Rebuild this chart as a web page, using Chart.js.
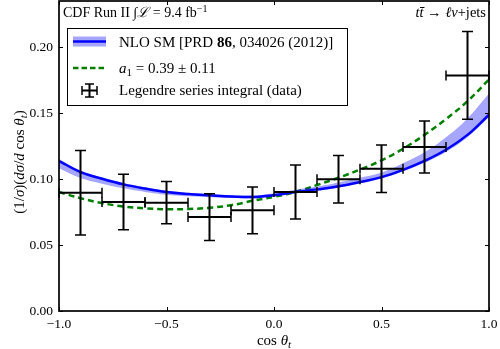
<!DOCTYPE html>
<html>
<head>
<meta charset="utf-8">
<script src="https://cdn.jsdelivr.net/npm/chart.js@4.4.0/dist/chart.umd.min.js"></script>
<style>
  html, body { margin: 0; padding: 0; background: #fff; }
  #wrap { width: 500px; height: 349px; position: relative; }
</style>
</head>
<body>
<div id="wrap"><canvas id="chart"></canvas></div>
<script>
// values
const curveX = [-1.0, -0.9, -0.8, -0.7, -0.6, -0.5, -0.4, -0.3, -0.2, -0.1, 0.0,
                0.1, 0.2, 0.3, 0.4, 0.5, 0.6, 0.7, 0.8, 0.9, 1.0];
const nloMid = [0.1137, 0.1053, 0.1003, 0.0960, 0.0928, 0.0902, 0.0887, 0.0877, 0.0868, 0.0864, 0.0878,
                0.0902, 0.0922, 0.0945, 0.0978, 0.1015, 0.1070, 0.1138, 0.1222, 0.1335, 0.1488];
const nloLow = [0.1082, 0.1008, 0.0965, 0.0930, 0.0903, 0.0882, 0.0870, 0.0863, 0.0856, 0.0854, 0.0868,
                0.0892, 0.0912, 0.0935, 0.0968, 0.1005, 0.1058, 0.1124, 0.1206, 0.1317, 0.1468];
const nloHigh = [0.1152, 0.1065, 0.1013, 0.0970, 0.0938, 0.0912, 0.0897, 0.0887, 0.0878, 0.0876, 0.0893,
                 0.0920, 0.0944, 0.0975, 0.1010, 0.1050, 0.1120, 0.1203, 0.1317, 0.1460, 0.1648];
const fitA1 = [0.0902, 0.0855, 0.0818, 0.0792, 0.0778, 0.0771, 0.0773, 0.0782, 0.0802, 0.0835, 0.0866,
               0.0902, 0.0955, 0.1010, 0.1072, 0.1142, 0.1230, 0.1335, 0.1455, 0.1590, 0.1755];

const binCenters = [-0.9, -0.7, -0.5, -0.3, -0.1, 0.1, 0.3, 0.5, 0.7, 0.9];
const binHalfWidth = [0.1, 0.1, 0.1, 0.1, 0.1, 0.1, 0.1, 0.1, 0.1, 0.1];
const dataY = [0.0897, 0.0826, 0.0821, 0.0712, 0.0763, 0.0902, 0.0998, 0.1079, 0.1243, 0.1786];
const dataErr = [0.032, 0.021, 0.016, 0.0177, 0.0177, 0.0205, 0.018, 0.018, 0.0197, 0.0333];

const xTicks = [-1.0, -0.5, 0.0, 0.5, 1.0];
const yTicks = [0.00, 0.05, 0.10, 0.15, 0.20];

const SERIF = '"Liberation Serif", "DejaVu Serif", serif';
const BLUE = '#0000ff';
const GREEN = '#008000';

function pts(ys) {
    return curveX.map(function(x, i) { return { x: x, y: ys[i] }; });
}

// draw a row of text pieces with their own fonts
function drawRuns(ctx, parts, x, y, align) {
    let total = 0;
    parts.forEach(function(p) {
        ctx.font = p.f;
        p.w = ctx.measureText(p.t).width;
        total += p.w;
    });
    let cx = x;
    if (align === 'center') cx = x - total / 2;
    if (align === 'right') cx = x - total;
    ctx.textBaseline = 'alphabetic';
    ctx.textAlign = 'left';
    parts.forEach(function(p) {
        ctx.font = p.f;
        ctx.fillText(p.t, cx, y + (p.dy || 0));
        cx += p.w;
    });
}

function f(size, style) {
    return (style || '') + ' ' + size + 'px ' + SERIF;
}

function noPad(scale) {
    scale.paddingTop = 0;
    scale.paddingBottom = 0;
    scale.paddingLeft = 0;
    scale.paddingRight = 0;
}

const errorBars = {
    id: 'errorBars',
    afterDatasetsDraw(chart) {
        const ctx = chart.ctx;
        const xs = chart.scales.x, ys = chart.scales.y;
        ctx.save();
        ctx.strokeStyle = '#000';
        binCenters.forEach(function(c, i) {
            const px = xs.getPixelForValue(c);
            const x0 = xs.getPixelForValue(c - binHalfWidth[i]);
            const x1 = xs.getPixelForValue(c + binHalfWidth[i]);
            const py = ys.getPixelForValue(dataY[i]);
            const y0 = ys.getPixelForValue(dataY[i] - dataErr[i]);
            const y1 = ys.getPixelForValue(dataY[i] + dataErr[i]);
            ctx.lineWidth = 2;
            ctx.beginPath();
            ctx.moveTo(x0, py); ctx.lineTo(x1, py);
            ctx.moveTo(px, y0); ctx.lineTo(px, y1);
            ctx.stroke();
            ctx.lineWidth = 1.5;
            ctx.beginPath();
            ctx.moveTo(px - 5.5, y0); ctx.lineTo(px + 5.5, y0);
            ctx.moveTo(px - 5.5, y1); ctx.lineTo(px + 5.5, y1);
            ctx.moveTo(x0, py - 5); ctx.lineTo(x0, py + 5);
            ctx.moveTo(x1, py - 5); ctx.lineTo(x1, py + 5);
            ctx.stroke();
        });
        ctx.restore();
    }
};

const decorations = {
    id: 'decorations',
    afterDraw(chart) {
        const ctx = chart.ctx;
        const a = chart.chartArea;
        const xs = chart.scales.x, ys = chart.scales.y;
        ctx.save();
        // inward ticks on all four sides
        ctx.strokeStyle = '#000';
        ctx.lineWidth = 1;
        ctx.beginPath();
        xTicks.forEach(function(v) {
            const px = Math.round(xs.getPixelForValue(v)) + 0.5;
            ctx.moveTo(px, a.bottom); ctx.lineTo(px, a.bottom - 4);
            ctx.moveTo(px, a.top); ctx.lineTo(px, a.top + 4);
        });
        yTicks.forEach(function(v) {
            const py = Math.round(ys.getPixelForValue(v)) + 0.5;
            ctx.moveTo(a.left, py); ctx.lineTo(a.left + 4, py);
            ctx.moveTo(a.right, py); ctx.lineTo(a.right - 4, py);
        });
        ctx.stroke();
        // frame
        ctx.lineWidth = 1.7;
        ctx.strokeRect(a.left, a.top, a.right - a.left, a.bottom - a.top);

        ctx.fillStyle = '#000';
        // corner labels
        drawRuns(ctx, [
            { t: 'CDF Run II ', f: f(14) },
            { t: '\u222B', f: f(14) },
            { t: '\u2112', f: f(14, 'italic') },
            { t: ' = 9.4 fb', f: f(14) },
            { t: '\u22121', f: f(10), dy: -5 }
        ], 63, 17, 'left');
        drawRuns(ctx, [
            { t: 'tt\u0304', f: f(14.5, 'italic') },
            { t: ' \u2192 ', f: f(14.5) },
            { t: '\u2113\u03BD', f: f(14.5, 'italic') },
            { t: '+jets', f: f(14.5) }
        ], 486, 17, 'right');

        // axis titles
        drawRuns(ctx, [
            { t: 'cos ', f: f(15) },
            { t: '\u03B8', f: f(15, 'italic') },
            { t: 't', f: f(11, 'italic'), dy: 3 }
        ], (a.left + a.right) / 2, 345, 'center');
        ctx.save();
        ctx.translate(24, 162);
        ctx.rotate(-Math.PI / 2);
        drawRuns(ctx, [
            { t: '(1/', f: f(15) },
            { t: '\u03C3', f: f(15, 'italic') },
            { t: ')(', f: f(15) },
            { t: 'd\u03C3', f: f(15, 'italic') },
            { t: '/', f: f(15) },
            { t: 'd', f: f(15, 'italic') },
            { t: ' cos ', f: f(15) },
            { t: '\u03B8', f: f(15, 'italic') },
            { t: 't', f: f(11, 'italic'), dy: 3 },
            { t: ')', f: f(15) }
        ], 0, 0, 'center');
        ctx.restore();

        // legend box
        ctx.fillStyle = '#fff';
        ctx.fillRect(67.5, 28.5, 280, 77);
        ctx.lineWidth = 1;
        ctx.strokeStyle = '#000';
        ctx.strokeRect(67.5, 28.5, 280, 77);

        // entry 1: band + line
        ctx.fillStyle = 'rgba(0, 0, 255, 0.35)';
        ctx.fillRect(73, 36.5, 33, 10);
        ctx.strokeStyle = BLUE;
        ctx.lineWidth = 2.5;
        ctx.beginPath(); ctx.moveTo(73, 41.5); ctx.lineTo(106, 41.5); ctx.stroke();
        // entry 2: dashed
        ctx.strokeStyle = GREEN;
        ctx.lineWidth = 2.5;
        ctx.setLineDash([5.5, 3]);
        ctx.beginPath(); ctx.moveTo(73, 68); ctx.lineTo(106, 68); ctx.stroke();
        ctx.setLineDash([]);
        // entry 3: error bar cross
        ctx.strokeStyle = '#000';
        ctx.lineWidth = 2;
        ctx.beginPath();
        ctx.moveTo(82, 90.5); ctx.lineTo(97, 90.5);
        ctx.moveTo(89.5, 84); ctx.lineTo(89.5, 97);
        ctx.stroke();
        ctx.lineWidth = 1.5;
        ctx.beginPath();
        ctx.moveTo(85, 84); ctx.lineTo(94, 84);
        ctx.moveTo(85, 97); ctx.lineTo(94, 97);
        ctx.moveTo(82, 86); ctx.lineTo(82, 95);
        ctx.moveTo(97, 86); ctx.lineTo(97, 95);
        ctx.stroke();

        ctx.fillStyle = '#000';
        drawRuns(ctx, [
            { t: 'NLO SM [PRD ', f: f(15) },
            { t: '86', f: f(15, 'bold') },
            { t: ', 034026 (2012)]', f: f(15) }
        ], 119, 46.5, 'left');
        drawRuns(ctx, [
            { t: 'a', f: f(15, 'italic') },
            { t: '1', f: f(11), dy: 3 },
            { t: ' = 0.39 \u00B1 0.11', f: f(15) }
        ], 119, 73, 'left');
        drawRuns(ctx, [
            { t: 'Legendre series integral (data)', f: f(15) }
        ], 119, 95, 'left');
        ctx.restore();
    }
};

const ctx = document.getElementById('chart').getContext('2d');
const myChart = new Chart(ctx, {
    type: 'line',
    data: {
        datasets: [
            {
                label: 'band low',
                data: pts(nloLow),
                borderWidth: 0,
                pointRadius: 0,
                fill: false,
                tension: 0.4
            },
            {
                label: 'band high',
                data: pts(nloHigh),
                borderWidth: 0,
                pointRadius: 0,
                backgroundColor: 'rgba(0, 0, 255, 0.35)',
                fill: '-1',
                tension: 0.4
            },
            {
                label: 'NLO SM',
                data: pts(nloMid),
                borderColor: BLUE,
                borderWidth: 2.5,
                pointRadius: 0,
                fill: false,
                tension: 0.4
            },
            {
                label: 'a1 fit',
                data: pts(fitA1),
                borderColor: GREEN,
                borderWidth: 2.5,
                borderDash: [6, 4],
                pointRadius: 0,
                fill: false,
                tension: 0.4
            },
            {
                label: 'data',
                data: binCenters.map(function(c, i) { return { x: c, y: dataY[i] }; }),
                showLine: false,
                pointRadius: 0
            }
        ]
    },
    options: {
        responsive: true,
        maintainAspectRatio: false,
        animation: false,
        events: [],
        layout: { padding: { top: 1, right: 11, left: 0, bottom: 0 } },
        plugins: {
            legend: { display: false },
            tooltip: { enabled: false }
        },
        scales: {
            x: {
                type: 'linear',
                min: -1,
                max: 1,
                grid: { display: false, drawTicks: false },
                border: { display: false },
                afterBuildTicks: function(scale) {
                    scale.ticks = xTicks.map(function(v) { return { value: v }; });
                },
                afterFit: function(scale) { scale.height = 38; noPad(scale); },
                ticks: {
                    padding: 5,
                    maxRotation: 0,
                    color: '#000',
                    font: { family: SERIF, size: 13.5 },
                    callback: function(v) {
                        return (v < 0 ? '\u2212' : '') + Math.abs(v).toFixed(1);
                    }
                }
            },
            y: {
                type: 'linear',
                min: 0,
                max: 0.235,
                grid: { display: false, drawTicks: false },
                border: { display: false },
                afterBuildTicks: function(scale) {
                    scale.ticks = yTicks.map(function(v) { return { value: v }; });
                },
                afterFit: function(scale) { scale.width = 59; noPad(scale); },
                ticks: {
                    padding: 6,
                    color: '#000',
                    font: { family: SERIF, size: 13.5 },
                    callback: function(v) { return v.toFixed(2); }
                }
            }
        }
    },
    plugins: [errorBars, decorations]
});
</script>
</body>
</html>
